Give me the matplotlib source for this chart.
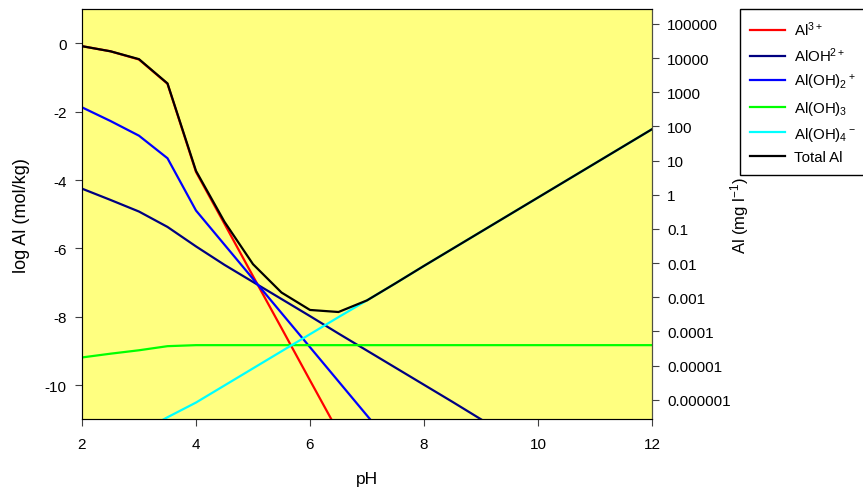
import numpy as np
import matplotlib
matplotlib.use("Agg")
import matplotlib.pyplot as plt

plt.rcParams['font.family'] = ['Liberation Sans', 'DejaVu Sans']
plt.rcParams['mathtext.default'] = 'regular'
plt.rcParams['axes.unicode_minus'] = False

# log Al (mol/kg), per species
ph_al3 = [2, 2.5, 3, 3.5, 4, 4.5, 5, 5.5, 6, 6.5]
al3 = [-0.08, -0.23, -0.47, -1.18, -3.76, -5.28, -6.81, -8.33, -9.86, -11.38]

ph_aloh = [2, 2.5, 3, 3.5, 4, 4.5, 5, 5.5, 6, 6.5, 7, 7.5, 8, 8.5, 9, 9.5]
aloh = [-4.25, -4.58, -4.92, -5.37, -5.94, -6.48, -6.98, -7.48, -7.98, -8.49,
        -8.99, -9.49, -9.99, -10.49, -11.0, -11.5]

ph_aloh2 = [2, 2.5, 3, 3.5, 4, 4.5, 5, 5.5, 6, 6.5, 7, 7.5]
aloh2 = [-1.87, -2.27, -2.7, -3.36, -4.89, -5.89, -6.89, -7.89, -8.89, -9.89, -10.89, -11.89]

ph_full = [2, 2.5, 3, 3.5, 4, 4.5, 5, 5.5, 6, 6.5, 7, 7.5, 8, 8.5, 9, 9.5, 10, 10.5, 11, 11.5, 12]
aloh3 = [-9.19, -9.08, -8.98, -8.86, -8.83, -8.83, -8.83, -8.83, -8.83, -8.83, -8.83,
         -8.83, -8.83, -8.83, -8.83, -8.83, -8.83, -8.83, -8.83, -8.83, -8.83]

ph_aloh4 = [3, 3.5, 4, 4.5, 5, 5.5, 6, 6.5, 7, 7.5, 8, 8.5, 9, 9.5, 10, 10.5, 11, 11.5, 12]
aloh4 = [-11.4, -10.94, -10.51, -10.01, -9.51, -9.01, -8.51, -8.01, -7.52, -7.02, -6.51,
         -6.01, -5.51, -5.01, -4.51, -4.01, -3.51, -3.01, -2.51]

total = [-0.08, -0.23, -0.46, -1.17, -3.73, -5.22, -6.46, -7.29, -7.8, -7.86, -7.52,
         -7.02, -6.51, -6.01, -5.51, -5.01, -4.51, -4.01, -3.51, -3.01, -2.51]

right_ticks = ['100000', '10000', '1000', '100', '10', '1', '0.1', '0.01',
               '0.001', '0.0001', '0.00001', '0.000001']
mg_offset = 4.43  # log10 of mg per mol of Al

fig = plt.figure(figsize=(8.63, 4.89), dpi=100)
ax = fig.add_axes([0.095, 0.1405, 0.6605, 0.8385])
ax.set_facecolor('#FFFF80')

lw = 1.6
ax.plot(ph_al3, al3, color='#FF0000', lw=lw, label='Al$^{3+}$')
ax.plot(ph_aloh, aloh, color='#000080', lw=lw, label='AlOH$^{2+}$')
ax.plot(ph_aloh2, aloh2, color='#0000FF', lw=lw, label='Al(OH)$_2$$^+$')
ax.plot(ph_full, aloh3, color='#00FF00', lw=lw, label='Al(OH)$_3$')
ax.plot(ph_aloh4, aloh4, color='#00FFFF', lw=lw, label='Al(OH)$_4$$^-$')
ax.plot(ph_full, total, color='black', lw=lw, label='Total Al')

ax.set_xlim(2, 12)
ax.set_ylim(-11, 1)
ax.set_xticks([2, 4, 6, 8, 10, 12])
ax.set_yticks([0, -2, -4, -6, -8, -10])
ax.tick_params(labelsize=11, direction='out', length=5, color='#404040')
ax.tick_params(axis='x', pad=8)
ax.tick_params(axis='y', pad=6)
for s in ['left', 'bottom', 'right']:
    ax.spines[s].set_color('#505040')
ax.spines['top'].set_color('black')

ax.set_xlabel('pH', fontsize=12.5)
ax.xaxis.set_label_coords(0.5, -0.125)
ax.set_ylabel('log Al (mol/kg)', fontsize=13)
ax.yaxis.set_label_coords(-0.091, 0.5)

ax2 = ax.twinx()
ax2.set_ylim(-11 + mg_offset, 1 + mg_offset)
ax2.set_yticks(np.arange(5, -7, -1))
ax2.set_yticklabels(right_ticks)
ax2.tick_params(labelsize=11, direction='out', length=5, color='#404040', pad=6)
ax2.spines['right'].set_color('#505040')
ax2.set_ylabel('Al (mg l$^{-1}$)', fontsize=12)
ax2.yaxis.set_label_coords(1.134, 0.5)

h, l = ax.get_legend_handles_labels()
leg = fig.legend(h, l, loc='upper left', bbox_to_anchor=(0.857, 0.98), fontsize=10.8,
                 frameon=True, fancybox=False, edgecolor='black', framealpha=1,
                 handlelength=2.35, labelspacing=0.52, borderpad=0.7, handletextpad=0.55,
                 borderaxespad=0)
leg.get_frame().set_linewidth(1.0)

fig.savefig('out.png', dpi=100)
